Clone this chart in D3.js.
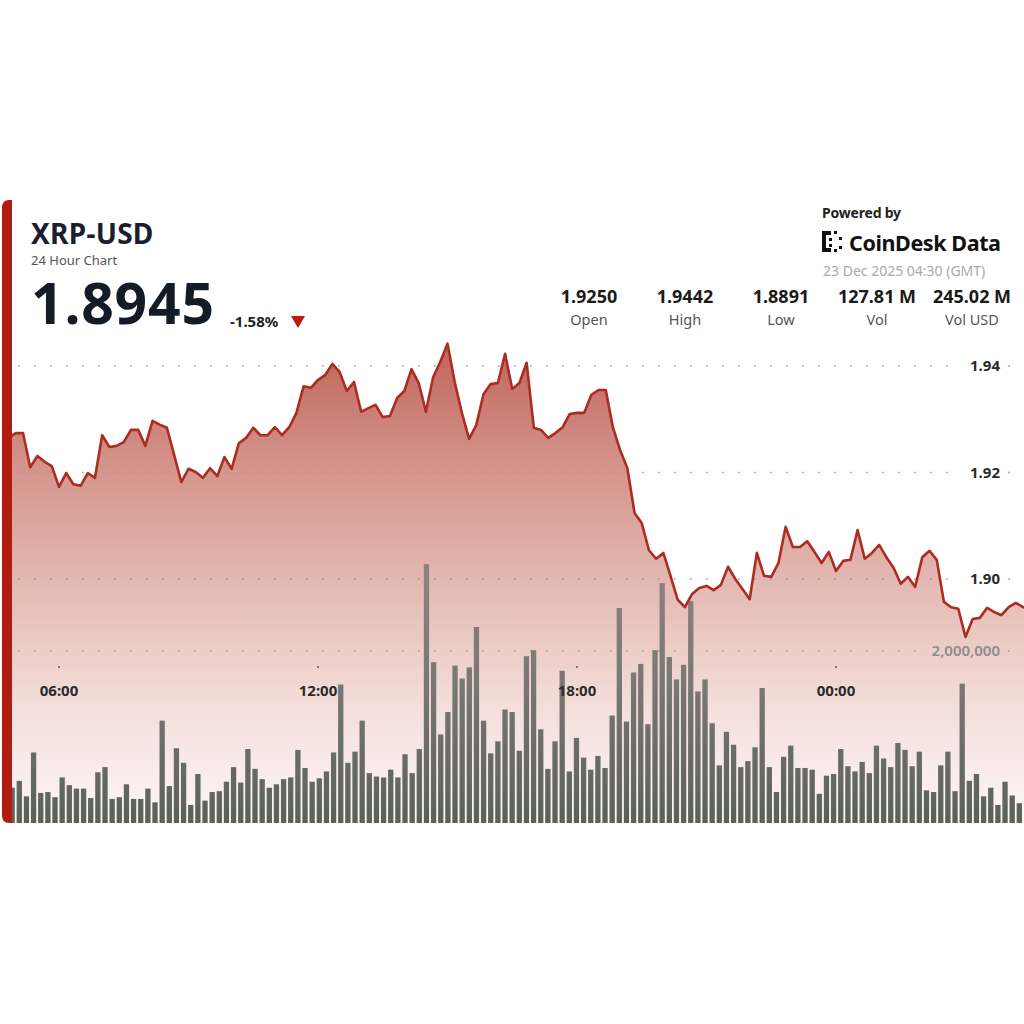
<!DOCTYPE html>
<html><head><meta charset="utf-8">
<script src="https://cdn.jsdelivr.net/npm/d3@7"></script>
<style>body{margin:0;background:#fff;} svg{display:block;font-family:"Noto Sans",sans-serif;}</style>
</head><body><svg id="c" width="1024" height="1024"></svg>
<script>
const startTime = "2025-12-22T04:30:00Z";
const endTime = "2025-12-23T04:30:00Z";
const stepMinutes = 10;
const prices = [
1.9250,1.9261,1.9265,1.9274,1.9274,1.9210,1.9231,1.9220,1.9212,1.9173,
1.9199,1.9178,1.9175,1.9199,1.9190,1.9270,1.9248,1.9250,1.9257,1.9280,
1.9280,1.9250,1.9297,1.9290,1.9284,1.9233,1.9182,1.9207,1.9201,1.9190,
1.9208,1.9193,1.9229,1.9207,1.9255,1.9265,1.9284,1.9270,1.9270,1.9285,
1.9270,1.9285,1.9312,1.9362,1.9359,1.9374,1.9383,1.9404,1.9389,1.9353,
1.9370,1.9314,1.9321,1.9327,1.9304,1.9306,1.9340,1.9353,1.9394,1.9368,
1.9314,1.9379,1.9408,1.9442,1.9370,1.9312,1.9263,1.9289,1.9347,1.9366,
1.9368,1.9423,1.9357,1.9368,1.9406,1.9284,1.9280,1.9265,1.9274,1.9285,
1.9310,1.9312,1.9312,1.9346,1.9355,1.9355,1.9284,1.9242,1.9208,1.9124,
1.9105,1.9054,1.9038,1.9049,1.9006,1.8961,1.8947,1.8972,1.8983,1.8987,
1.8979,1.8989,1.9023,1.9000,1.8981,1.8962,1.9049,1.9006,1.9004,1.9030,
1.9098,1.9060,1.9060,1.9071,1.9051,1.9030,1.9051,1.9015,1.9034,1.9036,
1.9092,1.9038,1.9049,1.9064,1.9041,1.9021,1.8991,1.9004,1.8985,1.9041,
1.9053,1.9036,1.8957,1.8947,1.8944,1.8891,1.8925,1.8927,1.8946,1.8938,
1.8932,1.8947,1.8955,1.8947,1.8945];
const volumesM = [
0.55,0.47,0.41,0.49,0.31,0.82,0.35,0.36,0.30,0.53,
0.44,0.40,0.40,0.29,0.59,0.65,0.28,0.30,0.45,0.28,
0.28,0.40,0.24,1.19,0.43,0.87,0.70,0.21,0.57,0.26,
0.36,0.37,0.48,0.65,0.47,0.86,0.63,0.51,0.41,0.45,
0.51,0.53,0.85,0.64,0.48,0.52,0.60,0.82,1.61,0.70,
0.83,1.19,0.58,0.54,0.53,0.62,0.53,0.80,0.58,0.86,
3.01,1.87,1.03,1.29,1.83,1.68,1.81,2.28,1.19,0.81,
0.95,1.32,1.29,0.84,1.94,2.01,1.09,0.63,0.95,1.77,
0.60,0.99,0.76,0.62,0.78,0.64,1.25,2.50,1.18,1.75,
1.85,1.15,2.01,2.79,1.93,1.67,1.84,2.58,1.53,1.67,
1.16,0.67,1.06,0.91,0.65,0.72,0.88,1.57,0.65,0.36,
0.77,0.90,0.64,0.64,0.62,0.34,0.55,0.57,0.86,0.66,
0.60,0.71,0.58,0.90,0.75,0.65,0.93,0.85,0.66,0.83,
0.38,0.36,0.67,0.83,0.37,1.62,0.49,0.57,0.31,0.41,
0.21,0.48,0.32,0.23];
const priceTicks = [1.90, 1.92, 1.94];
const volumeTicks = [2000000];
const timeTicks = ["2025-12-22T06:00:00Z","2025-12-22T12:00:00Z","2025-12-22T18:00:00Z","2025-12-23T00:00:00Z"];
const timeTickLabels = ["06:00","12:00","18:00","00:00"];
const statValues = ["1.9250","1.9442","1.8891","127.81 M","245.02 M"];
const statLabels = ["Open","High","Low","Vol","Vol USD"];
const title = "XRP-USD", subtitle = "24 Hour Chart", lastPrice = "1.8945", change = "-1.58%";
const stamp = "23 Dec 2025 04:30 (GMT)";

const svg = d3.select("#c");
const defs = svg.append("defs");
const t0 = new Date(startTime), t1 = new Date(endTime);
const pts = prices.map((p,i)=>({t:new Date(+t0 + i*stepMinutes*60000), p}));

const x = d3.scaleTime().domain([t0,t1]).range([-5.75, 1030.25]);
const y = d3.scaleLinear().domain([1.90,1.94]).range([579,366]);
const yv = d3.scaleLinear().domain([0,2000000]).range([823,651]);
const xb = d3.scaleBand().domain(volumesM.map((v,i)=>i)).range([-5.7,1022.9]).paddingInner(0.26).paddingOuter(0.13);

defs.append("clipPath").attr("id","clip").append("rect").attr("x",12).attr("y",195).attr("width",1012).attr("height",628);
const ag = defs.append("linearGradient").attr("id","ag").attr("gradientUnits","userSpaceOnUse").attr("x1",0).attr("x2",0).attr("y1",340).attr("y2",823);
[[0,"#bf6258"],[0.25,"#d3928a"],[0.5,"#e3b8b2"],[0.75,"#f3ddd9"],[1,"#fdf7f6"]].forEach(s=>ag.append("stop").attr("offset",s[0]).attr("stop-color",s[1]));
const bg = defs.append("linearGradient").attr("id","bg").attr("gradientUnits","userSpaceOnUse").attr("x1",0).attr("x2",0).attr("y1",565).attr("y2",823);
[[0,"#8e837f"],[0.45,"#7a7873"],[1,"#5a615b"]].forEach(s=>bg.append("stop").attr("offset",s[0]).attr("stop-color",s[1]));

// left red border of card
svg.append("path").attr("d","M12,200 H9 Q2,200 2,208 V815 Q2,823 9,823 H12 Z").attr("fill","#b01c10");

const g = svg.append("g").attr("clip-path","url(#clip)");
g.append("path").datum(pts).attr("fill","url(#ag)")
 .attr("d", d3.area().x(d=>x(d.t)).y0(823).y1(d=>y(d.p)));

const gridG = g.append("g");
const labG = svg.append("g");
function gridWithLabel(yy, text, opts){
  const tx = labG.append("text").attr("x",1000).attr("y",yy).attr("dy","0.35em").attr("text-anchor","end")
   .attr("font-size",opts.size).attr("font-weight",opts.weight).attr("fill",opts.color).text(text);
  const bb = tx.node().getBBox();
  const segs = [[18, bb.x-8],[bb.x+bb.width+8, 1024]];
  segs.forEach(s=>gridG.append("line").attr("x1",s[0]).attr("x2",s[1]).attr("y1",yy).attr("y2",yy)
    .attr("stroke","#9a9a9a").attr("stroke-width",1.6).attr("stroke-dasharray","1.6,14.4"));
}
priceTicks.forEach(p=>gridWithLabel(y(p), p.toFixed(2), {size:15, weight:700, color:"#2b2b2b"}));
volumeTicks.forEach(v=>gridWithLabel(yv(v), d3.format(",")(v), {size:15, weight:600, color:"#8c8c8c"}));

// volume bars
g.append("g").selectAll("rect").data(volumesM).join("rect")
 .attr("x",(d,i)=>xb(i)).attr("width",xb.bandwidth())
 .attr("y",d=>yv(d*1e6)).attr("height",d=>823-yv(d*1e6))
 .attr("fill","url(#bg)");

// price line
g.append("path").datum(pts).attr("fill","none").attr("stroke","#ad2c22").attr("stroke-width",2.6).attr("stroke-linejoin","round")
 .attr("d", d3.line().x(d=>x(d.t)).y(d=>y(d.p)));

// time axis
timeTicks.forEach((tt,i)=>{
  const xx = x(new Date(tt));
  svg.append("line").attr("x1",xx-1).attr("x2",xx+1).attr("y1",667).attr("y2",667).attr("stroke","#555").attr("stroke-width",1.5);
  svg.append("text").attr("x",xx).attr("y",696).attr("text-anchor","middle").attr("font-size",15).attr("font-weight",700).attr("fill","#2b2b2b").text(timeTickLabels[i]);
});

// header left
svg.append("text").attr("x",31).attr("y",244).attr("font-size",28).attr("font-weight",700).attr("letter-spacing",0.3).attr("fill","#182030").text(title);
svg.append("text").attr("x",31).attr("y",265).attr("font-size",13).attr("fill","#555").text(subtitle);
svg.append("text").attr("x",31).attr("y",324).attr("font-size",57).attr("font-weight",700).attr("letter-spacing",0.8).attr("fill","#131b27").text(lastPrice);
svg.append("text").attr("x",230).attr("y",327).attr("font-size",15).attr("font-weight",700).attr("fill","#222").text(change);
svg.append("path").attr("d","M291,316 L305,316 L298,328 Z").attr("fill","#b71c0c");

// header right
svg.append("text").attr("x",822).attr("y",218).attr("font-size",14).attr("font-weight",700).attr("letter-spacing",-0.2).attr("fill","#222").text("Powered by");
const logo = svg.append("g").attr("fill","#111");
[[822,231,4,21],[822,231,9,4],[822,248,9,4],[834,231,3,3],[834,249,3,3],[829,238,3,3],[829,244,3,3],[839,237,3,3],[839,246,3,3]]
 .forEach(r=>logo.append("rect").attr("x",r[0]).attr("y",r[1]).attr("width",r[2]).attr("height",r[3]));
svg.append("text").attr("x",849).attr("y",251).attr("font-size",21.5).attr("font-weight",700).attr("letter-spacing",-0.4).attr("fill","#111").text("CoinDesk Data");
svg.append("text").attr("x",823).attr("y",276).attr("font-size",14).attr("fill","#aaa").text(stamp);
const statX = [589,685,781,877,972];
statValues.forEach((v,i)=>{
  svg.append("text").attr("x",statX[i]).attr("y",303).attr("text-anchor","middle").attr("font-size",18).attr("font-weight",700).attr("fill","#1a1a1a").text(v);
  svg.append("text").attr("x",statX[i]).attr("y",325).attr("text-anchor","middle").attr("font-size",14.5).attr("fill","#555").text(statLabels[i]);
});
</script></body></html>
